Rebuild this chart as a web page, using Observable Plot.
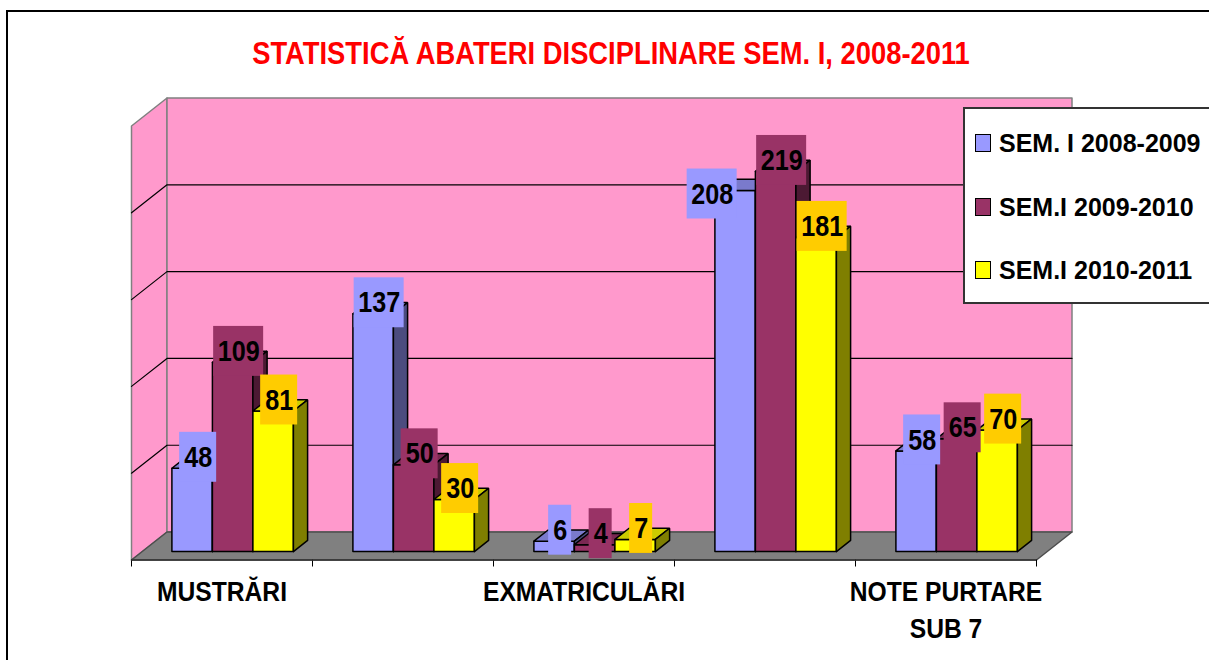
<!DOCTYPE html>
<html>
<head>
<meta charset="utf-8">
<script src="https://cdn.jsdelivr.net/npm/d3@7"></script>
<script src="https://cdn.jsdelivr.net/npm/@observablehq/plot@0.6"></script>
<style>
  html, body { margin: 0; padding: 0; background: #fff; }
  #page { position: relative; width: 1209px; height: 660px; overflow: hidden; background: #fff;
          font-family: "Liberation Sans", Arial, sans-serif; font-weight: 700; }
  #frame { position: absolute; left: 6px; top: 10px; width: 1400px; height: 900px; border: 2px solid #000; }
  #title { position: absolute; left: 111px; width: 1000px; top: 36px; text-align: center; color: #f00; font-size: 31px; line-height: 36px; white-space: nowrap; transform: scaleX(0.882); transform-origin: center; }
  #chart { position: absolute; left: 0; top: 0; }
  #legend { position: absolute; left: 963px; top: 107px; width: 300px; height: 193px; background: #fff; border: 2px solid #333; }
  .row { position: absolute; left: 10px; height: 30px; line-height: 30px; font-size: 25px; color: #000; white-space: nowrap; }
  .sw { position: absolute; left: 0; top: 6px; width: 14px; height: 16px; border: 1.5px solid #000; }
  .lb { position: absolute; left: 24px; top: 0; transform-origin: left center; }
</style>
</head>
<body>
<div id="page">
  <div id="frame"></div>
  <div id="title"></div>
  <div id="chart"></div>
  <div id="legend"></div>
</div>
<script>
const titleText = "STATISTICĂ ABATERI DISCIPLINARE SEM. I, 2008-2011";
const seriesNames = ["SEM. I 2008-2009", "SEM.I 2009-2010", "SEM.I 2010-2011"];
const sem0809 = [48, 137, 6, 208, 58];
const sem0910 = [109, 50, 4, 219, 65];
const sem1011 = [81, 30, 7, 181, 70];
const categoryLabels = ["MUSTRĂRI", "", "EXMATRICULĂRI", "", "NOTE PURTARE\nSUB 7"];
const gridValues = [50, 100, 150, 200];

const seriesValues = [sem0809, sem0910, sem1011];
const front = ["#9999FF", "#993366", "#FFFF00"];
const topFace = ["#7A7ACC", "#7A2852", "#CCCC00"];
const sideFace = ["#4C4C7F", "#4C1933", "#7F7F00"];
const labelFill = ["#9999FF", "#993366", "#FFCC00"];

const nCat = categoryLabels.length, yMax = 250;
const plotW = 905, plotH = 434.5;           // inner size of the front plane
const catPx = nCat / plotW, valPx = yMax / plotH; // data units per pixel
const depthX = 35.5 * catPx, depthY = 28 * valPx; // oblique projection of depth
const P = (c, v, d = 0) => ({x: c + d * depthX, y: v + d * depthY});

const polys = [];
const poly = (id, fill, pts) => [...pts, pts[0]].forEach(p => polys.push({id, fill, ...p}));

// bars
const barW = 40.5 * catPx, pad = (1 - 3 * barW) / 2, d0 = 0.3, d1 = 0.7;
const labels = [];
for (let c = 0; c < nCat; c++) {
  seriesValues.forEach((vals, s) => {
    const v = vals[c], a = c + pad + s * barW, b = a + barW, id = `b${c}-${s}`;
    poly(id + "f", front[s], [P(a, 0, d0), P(b, 0, d0), P(b, v, d0), P(a, v, d0)]);
    poly(id + "t", topFace[s], [P(a, v, d0), P(b, v, d0), P(b, v, d1), P(a, v, d1)]);
    poly(id + "s", sideFace[s], [P(b, 0, d0), P(b, 0, d1), P(b, v, d1), P(b, v, d0)]);
    const moved = v === 208; // this one label was dragged aside in the original
    const cx = (a + b) / 2 + d0 * depthX + (moved ? -23 : 6) * catPx;
    const cy = v + d0 * depthY + (moved ? -3.5 : 11) * valPx;
    const hw = [0, 11.5, 18.5, 25][String(v).length] * catPx;
    labels.push({v, s, cx, cy, x1: cx - hw, x2: cx + hw, y1: cy - 25 * valPx, y2: cy + 25 * valPx, fill: labelFill[s]});
  });
}

const walls = [], floor = [], grid = [];
[P(0, 0), P(0, 0, 1), P(0, yMax, 1), P(0, yMax), P(0, 0)].forEach(p => walls.push({id: "left", ...p}));
[P(0, 0, 1), P(nCat, 0, 1), P(nCat, yMax, 1), P(0, yMax, 1), P(0, 0, 1)].forEach(p => walls.push({id: "back", ...p}));
[P(0, 0), P(nCat, 0), P(nCat, 0, 1), P(0, 0, 1), P(0, 0)].forEach(p => floor.push({id: "floor", ...p}));
gridValues.forEach(v => [P(0, v), P(0, v, 1), P(nCat, v, 1)].forEach(p => grid.push({id: v, ...p})));

const font = '"Liberation Sans", Arial, sans-serif';
const chart = Plot.plot({
  width: 1209, height: 660,
  marginLeft: 131, marginRight: 173, marginTop: 125.5, marginBottom: 100.5,
  style: {background: "transparent", overflow: "visible"},
  x: {domain: [0, nCat]},
  y: {domain: [0, yMax], axis: null},
  marks: [
    Plot.line(walls, {x: "x", y: "y", z: "id", fill: "#FF99CC", stroke: "#808080", strokeWidth: 1.5}),
    Plot.line(grid, {x: "x", y: "y", z: "id", stroke: "#000", strokeWidth: 1.2}),
    Plot.line(floor, {x: "x", y: "y", z: "id", fill: "#808080", stroke: "#4d4d4d", strokeWidth: 1.5}),
    Plot.axisX({ticks: d3.range(nCat + 1), tickSize: 7, tickFormat: () => "", label: null, stroke: "#000"}),
    Plot.ruleY([0], {stroke: "#333", strokeWidth: 1.5}),
    Plot.axisX({
      ticks: categoryLabels.map((l, i) => l ? i + 0.5 : null).filter(t => t !== null),
      tickSize: 0, tickPadding: 15, label: null,
      tickFormat: t => categoryLabels[Math.floor(t)],
      fontSize: 28, fontWeight: 700, fontFamily: font, lineHeight: 1.32, lineAnchor: "top", fill: "#000"
    }),
    Plot.line(polys, {x: "x", y: "y", z: "id", fill: "fill", stroke: "#000", strokeWidth: 1.5, strokeLinejoin: "miter"}),
    Plot.rect(labels, {x1: "x1", x2: "x2", y1: "y1", y2: "y2", fill: "fill"}),
    Plot.text(labels, {x: "cx", y: "cy", text: d => String(d.v), fill: "#000", fontSize: 30, fontWeight: 700, fontFamily: font})
  ]
});
// the original's lettering is condensed: narrow each text around its anchor
d3.select(chart).selectAll("text").each(function () {
  const t = this.textContent;
  if (!t) return;
  const k = /^\d+$/.test(t) ? 0.84 : 0.88;
  const tr = this.getAttribute("transform") || "";
  this.setAttribute("transform", `${tr} scale(${k},1)`.trim());
});
document.getElementById("chart").append(chart);

const legend = document.getElementById("legend");
seriesNames.forEach((name, i) => {
  const row = document.createElement("div");
  row.className = "row";
  row.style.top = (19 + i * 63.5) + "px";
  const sw = document.createElement("div");
  sw.className = "sw"; sw.style.background = front[i];
  const lb = document.createElement("div");
  lb.className = "lb"; lb.textContent = name;
  row.append(sw, lb);
  legend.append(row);
});
document.getElementById("title").textContent = titleText;
</script>
</body>
</html>
